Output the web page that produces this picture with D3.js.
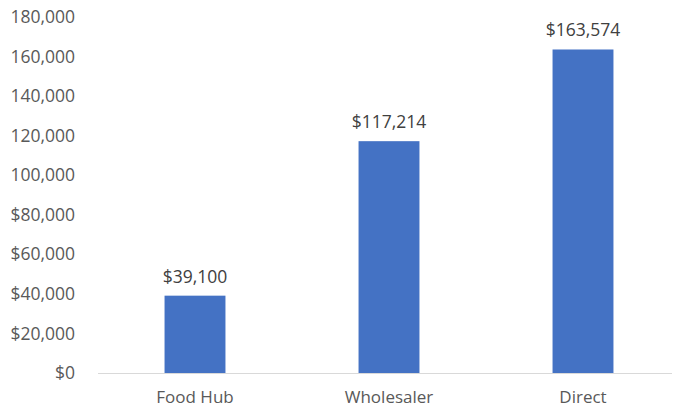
<!DOCTYPE html>
<html>
<head>
<meta charset="utf-8">
<script src="https://cdn.jsdelivr.net/npm/d3@7"></script>
<style>
  body { margin: 0; background: #fff; }
  svg { display: block; font-family: "Open Sans", sans-serif; }
  .tick-label { fill: #595959; font-size: 17.5px; }
  .cat-label { fill: #595959; font-size: 17px; }
  .val-label { fill: #404040; font-size: 17.5px; }
</style>
</head>
<body>
<svg id="chart"></svg>
<script>
// Data
const categories = ["Food Hub", "Wholesaler", "Direct"];
const values = [39100, 117214, 163574];
const yTicks = [0, 20000, 40000, 60000, 80000, 100000, 120000, 140000, 160000, 180000];
const yTickLabels = ["$0", "$20,000", "$40,000", "$60,000", "$80,000", "100,000", "120,000", "140,000", "160,000", "180,000"];

const W = 673, H = 408;
const svg = d3.select("#chart").attr("width", W).attr("height", H);

// Scales
const x = d3.scaleBand()
    .domain(categories)
    .range([98, 680])
    .paddingInner(0.686)
    .paddingOuter(0.343);

const y = d3.scaleLinear()
    .domain([0, 180000])
    .range([373, 17]);

// Y tick labels
svg.selectAll(".tick-label")
    .data(yTicks)
    .enter()
    .append("text")
    .attr("class", "tick-label")
    .attr("x", 75)
    .attr("y", d => y(d))
    .attr("dy", "0.35em")
    .attr("text-anchor", "end")
    .text((d, i) => yTickLabels[i]);

// Bars
svg.selectAll(".bar")
    .data(values)
    .enter()
    .append("rect")
    .attr("class", "bar")
    .attr("x", (d, i) => x(categories[i]))
    .attr("y", d => y(d))
    .attr("width", x.bandwidth())
    .attr("height", d => y(0) - y(d))
    .attr("fill", "#4472C4");

// Axis line
svg.append("line")
    .attr("x1", 98)
    .attr("x2", 672)
    .attr("y1", y(0) + 0.5)
    .attr("y2", y(0) + 0.5)
    .attr("stroke", "#D9D9D9")
    .attr("stroke-width", 1);

// Category labels
svg.selectAll(".cat-label")
    .data(categories)
    .enter()
    .append("text")
    .attr("class", "cat-label")
    .attr("x", d => x(d) + x.bandwidth() / 2)
    .attr("y", 403)
    .attr("text-anchor", "middle")
    .text(d => d);

// Value labels
svg.selectAll(".val-label")
    .data(values)
    .enter()
    .append("text")
    .attr("class", "val-label")
    .attr("x", (d, i) => x(categories[i]) + x.bandwidth() / 2)
    .attr("y", d => y(d) - 13)
    .attr("text-anchor", "middle")
    .text(d => "$" + d3.format(",")(d));
</script>
</body>
</html>
